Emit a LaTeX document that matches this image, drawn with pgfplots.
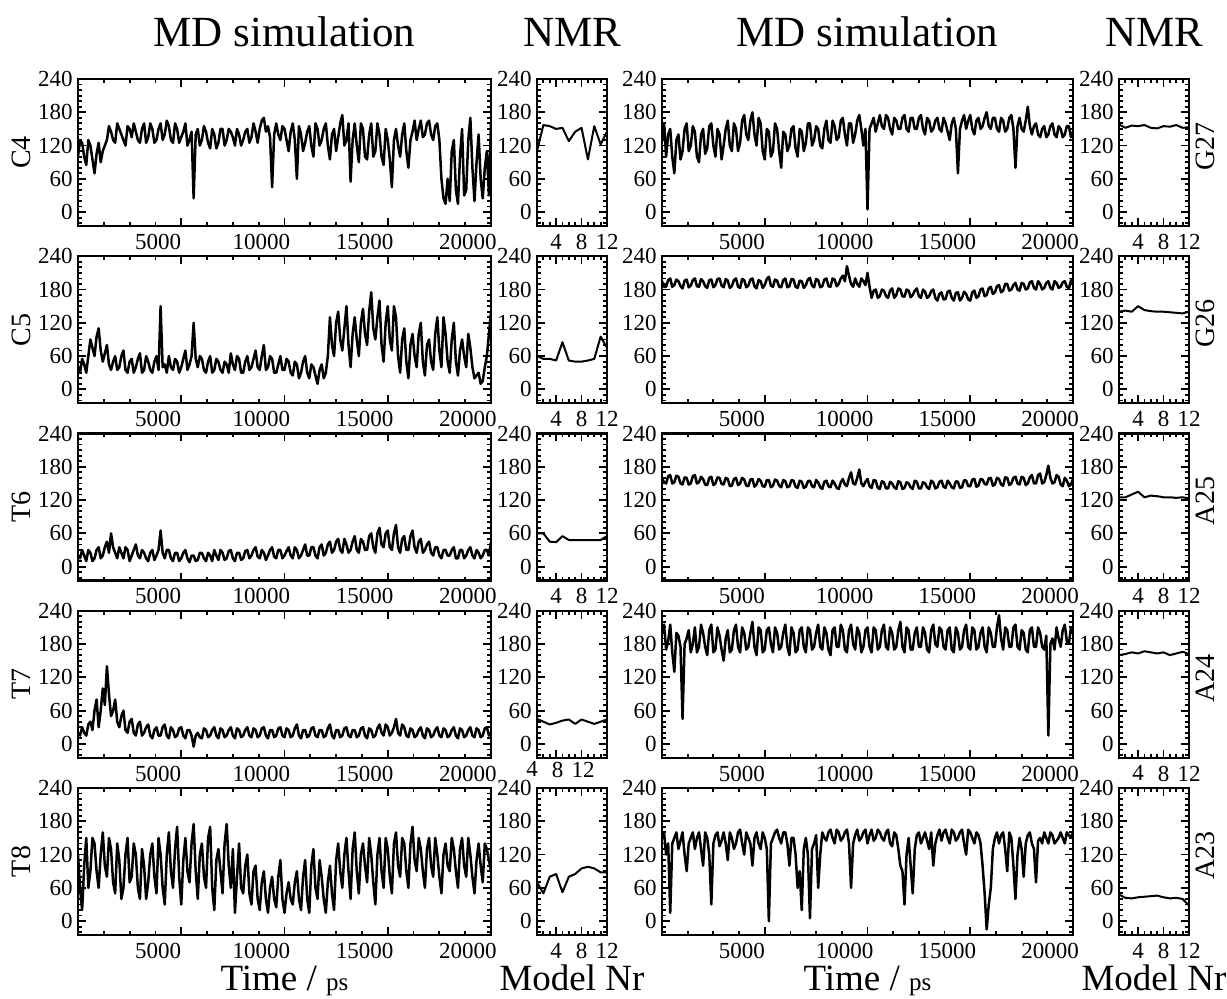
\documentclass[border=0pt]{standalone}
\usepackage{fontspec}
\setmainfont{Liberation Serif}
\usepackage{pgfplots}
\usepackage{pgfplotstable}
\pgfplotsset{compat=1.18}

\pgfplotstableread{
t C4 C5 T6 T7 T8 G27 G26 A25 A24 A23
0 100 40 20 20 120 130 195 160 200 150
100 130 30 15 15 60 160 185 152 215 160
200 125 55 30 30 20 100 185 150 170 120
300 100 45 20 20 100 140 197 163 185 140
400 85 30 10 15 150 150 200 165 215 15
500 130 60 30 35 60 100 185 150 165 140
600 120 90 25 40 90 70 188 152 130 150
700 95 75 10 25 150 130 198 164 200 160
800 70 60 15 60 140 140 195 162 195 130
900 105 95 30 80 90 95 186 150 175 145
1000 125 110 35 30 60 110 182 148 45 160
1100 90 70 15 60 120 150 196 161 180 120
1200 110 50 20 100 160 160 198 160 190 90
1300 120 65 35 70 100 110 184 148 205 140
1400 130 80 45 140 80 120 187 150 165 150
1500 155 45 25 90 150 155 197 163 180 160
1600 145 35 60 50 130 145 200 165 210 130
1700 130 50 35 60 70 100 186 150 165 150
1800 125 60 25 80 50 90 185 152 175 160
1900 160 35 15 40 140 140 199 162 215 130
2000 150 40 35 30 110 150 195 158 200 100
2100 140 60 25 50 40 105 186 148 175 160
2200 130 70 15 60 60 115 183 147 160 150
2300 120 35 35 25 120 155 197 160 205 120
2400 155 30 30 20 150 160 198 162 215 30
2500 150 50 10 40 70 120 184 147 165 140
2600 135 55 20 45 80 100 188 150 170 155
2700 160 30 30 20 140 150 199 161 210 160
2800 145 40 40 15 120 140 200 160 195 135
2900 130 55 20 35 60 95 187 149 170 145
3000 125 65 15 40 40 120 184 148 150 160
3100 150 30 30 15 130 150 199 160 190 140
3200 160 35 25 20 100 165 196 158 205 110
3300 125 60 15 30 40 120 183 145 165 160
3400 135 50 10 35 70 110 186 146 170 150
3500 160 35 25 15 120 160 197 158 205 130
3600 150 30 30 10 140 150 200 160 215 140
3700 125 50 12 25 80 110 185 147 175 160
3800 130 60 20 30 50 125 183 150 165 165
3900 150 35 30 15 150 165 199 160 210 140
4000 160 150 65 15 120 175 197 157 200 120
4100 130 40 25 30 60 140 184 146 170 160
4200 140 45 15 35 30 130 187 145 175 150
4300 165 30 30 15 120 165 198 157 200 140
4400 155 60 30 10 160 180 200 158 220 100
4500 130 40 15 30 90 140 186 144 175 150
4600 125 35 10 25 60 120 182 148 160 160
4700 160 55 25 12 130 170 197 158 210 140
4800 150 50 25 15 170 160 195 155 205 130
4900 125 30 10 28 80 110 183 145 165 160
5000 135 40 15 30 30 95 188 144 170 150
5100 145 55 25 15 110 150 199 156 205 130
5200 160 70 30 10 150 145 203 156 210 0
5300 120 35 15 25 90 100 187 143 180 140
5400 130 45 8 25 70 110 185 146 165 150
5500 145 60 20 15 140 160 198 157 210 160
5600 25 120 20 -5 175 150 196 155 200 165
5700 140 55 10 15 90 110 185 146 170 150
5800 150 40 12 20 40 80 184 143 175 140
5900 120 60 25 12 120 145 197 156 200 160
6000 130 55 25 10 140 140 200 154 215 160
6100 155 35 15 28 80 110 184 143 175 140
6200 145 30 10 25 60 120 186 145 160 100
6300 125 50 25 12 150 150 199 156 210 150
6400 115 60 20 15 170 155 198 155 200 150
6500 150 30 10 25 60 115 185 144 165 120
6600 140 35 30 30 20 100 183 142 170 60
6700 115 55 20 15 110 150 196 155 205 90
6800 125 50 12 10 130 145 195 153 210 20
6900 150 35 30 28 90 110 183 142 175 130
7000 150 30 25 25 50 125 188 144 165 150
7100 120 50 12 12 140 160 198 154 210 120
7200 130 45 15 15 175 160 201 155 205 5
7300 150 30 28 25 100 120 187 145 170 130
7400 145 65 30 30 60 130 184 143 175 140
7500 135 45 15 15 130 155 199 156 200 155
7600 120 35 10 10 15 150 197 152 215 60
7700 150 60 25 28 80 120 184 143 175 120
7800 140 55 25 25 140 115 186 140 170 160
7900 120 30 12 12 60 150 198 153 210 150
8000 130 30 15 15 50 165 200 155 200 145
8100 145 50 28 25 100 130 186 145 170 160
8200 150 60 30 30 120 125 185 143 160 165
8300 125 35 15 15 50 165 200 155 205 150
8400 135 40 20 12 30 155 198 150 210 140
8500 160 55 30 28 90 130 186 142 175 165
8600 145 70 35 25 100 135 190 140 175 160
8700 125 40 18 12 40 165 200 152 215 145
8800 150 35 15 15 20 170 205 158 205 150
8900 165 60 30 28 70 140 195 148 170 160
9000 170 80 25 30 90 120 222 145 165 165
9100 145 35 12 15 40 160 205 160 205 140
9200 155 40 20 10 15 160 190 170 215 60
9300 135 60 30 25 60 125 185 150 180 140
9400 45 55 35 25 80 140 200 148 170 155
9500 140 30 18 12 40 165 190 160 210 165
9600 160 30 15 15 25 175 185 175 200 145
9700 140 45 30 28 80 150 200 150 165 150
9800 130 60 30 30 110 120 195 145 175 160
9900 155 35 15 15 40 150 188 153 205 165
10000 150 35 20 12 15 5 210 158 210 140
10100 130 55 28 28 50 150 185 145 175 155
10200 110 50 35 25 70 160 165 142 165 165
10300 145 30 20 12 40 170 178 156 210 145
10400 160 25 15 15 30 145 180 155 205 150
10500 130 50 35 28 70 160 165 142 170 165
10600 60 45 30 35 90 175 168 140 175 160
10700 155 20 15 15 40 155 180 154 205 150
10800 140 30 20 10 20 150 178 152 215 145
10900 110 50 30 25 80 175 168 141 175 160
11000 125 60 40 25 110 170 165 141 170 165
11100 145 30 20 12 40 150 178 153 210 140
11200 155 20 20 15 15 140 182 150 200 135
11300 120 45 35 28 100 170 165 143 170 160
11400 100 40 35 30 130 165 170 140 175 155
11500 160 25 20 15 60 150 182 154 205 130
11600 150 10 15 12 40 150 180 152 220 100
11700 120 35 35 25 110 170 168 140 175 90
11800 130 45 40 25 80 175 167 142 165 30
11900 150 20 20 12 40 150 180 152 210 120
12000 160 30 25 15 15 145 178 150 205 150
12100 120 60 40 28 70 170 166 143 170 100
12200 95 130 45 35 100 170 170 140 170 50
12300 140 80 25 15 50 150 178 155 200 130
12400 150 60 30 10 20 150 182 153 210 155
12500 110 120 45 25 110 170 168 141 175 160
12600 135 140 50 25 140 175 165 141 175 140
12700 160 90 30 12 90 150 180 152 210 150
12800 175 70 25 15 60 140 176 150 200 160
12900 120 110 50 28 120 170 165 143 170 145
13000 130 150 40 30 150 165 168 140 165 130
13100 160 80 25 15 90 145 177 155 205 160
13200 55 40 30 12 40 150 180 152 215 100
13300 130 100 45 25 130 165 165 141 180 140
13400 160 130 55 25 160 170 160 143 175 155
13500 120 90 30 12 90 150 172 153 210 165
13600 90 60 25 15 50 145 175 155 205 145
13700 160 120 50 28 120 170 162 144 175 160
13800 150 145 45 30 140 160 163 142 170 165
13900 100 100 30 15 100 145 176 155 205 150
14000 95 80 30 10 70 130 178 150 210 140
14100 140 140 55 28 150 160 165 143 170 165
14200 160 175 60 25 120 170 160 141 165 160
14300 100 110 35 12 70 150 174 154 210 145
14400 110 90 25 15 30 70 175 153 200 150
14500 160 130 60 28 120 150 160 142 170 160
14600 140 160 70 35 150 165 165 143 175 165
14700 100 80 40 20 90 175 176 156 205 140
14800 85 50 35 15 60 150 172 155 215 120
14900 150 120 60 35 150 165 162 145 175 165
15000 130 150 65 30 130 175 160 145 170 160
15100 95 90 35 15 80 150 175 157 210 150
15200 45 70 30 20 50 140 178 158 205 140
15300 130 150 60 30 140 165 165 144 170 160
15400 150 130 75 45 160 170 168 146 175 155
15500 120 60 35 20 100 150 180 158 200 140
15600 100 30 25 15 80 155 182 157 210 100
15700 140 90 50 35 150 170 168 149 175 50
15800 160 110 55 30 140 180 170 148 165 -15
15900 110 50 30 15 90 155 182 159 210 30
16000 80 20 30 12 60 150 185 160 200 60
16100 130 80 55 28 140 170 172 146 175 130
16200 145 100 65 25 170 170 175 148 175 150
16300 165 60 35 12 110 150 186 160 210 160
16400 130 40 25 15 90 145 188 158 232 140
16500 150 100 45 25 150 170 175 148 190 155
16600 165 120 50 30 130 165 178 146 170 160
16700 135 50 25 15 90 145 190 161 210 130
16800 140 25 30 10 60 150 190 160 205 90
16900 160 80 40 28 130 170 178 147 175 160
17000 165 90 45 25 150 175 180 150 175 150
17100 140 50 25 12 100 150 188 160 210 100
17200 130 35 20 15 80 80 192 162 215 40
17300 155 100 35 25 150 155 180 150 175 120
17400 160 130 35 30 120 170 178 148 170 150
17500 130 70 20 15 80 150 192 162 205 130
17600 60 40 15 12 50 145 190 160 200 80
17700 25 130 30 28 120 165 180 147 170 140
17800 15 100 30 25 140 190 182 150 165 155
17900 60 50 20 12 100 155 193 161 205 160
18000 20 30 20 15 90 140 195 165 210 140
18100 110 90 30 25 150 155 183 150 175 130
18200 130 120 35 30 130 160 180 150 175 70
18300 40 50 15 15 90 140 195 165 210 145
18400 15 25 15 10 60 135 190 168 200 150
18500 100 70 30 28 130 150 180 150 175 140
18600 150 90 30 25 150 155 183 152 170 160
18700 30 60 15 12 100 135 192 165 195 150
18800 40 40 20 15 80 140 195 182 15 140
18900 130 100 30 25 150 155 183 160 180 160
19000 170 75 35 30 120 160 180 150 190 155
19100 80 40 20 15 80 140 195 152 170 140
19200 20 20 15 12 50 135 192 165 210 145
19300 90 25 30 28 110 155 183 162 190 150
19400 140 30 25 25 140 150 185 148 175 160
19500 60 10 15 12 100 135 193 145 205 150
19600 25 15 20 15 70 140 195 160 215 140
19700 80 40 30 28 140 155 185 155 185 160
19800 110 60 30 30 130 155 182 145 180 155
19900 30 100 20 15 110 135 196 148 210 150
20000 160 140 45 20 90 145 200 158 200 160
}\md

\pgfplotstableread{
m C4 C5 T6 T7 T8 G27 G26 A25 A24 A23
1 110 60 60 45 70 158 140 125 160 48
2 157 55 60 40 50 152 142 125 162 42
3 155 55 45 35 80 156 140 130 165 41
4 150 52 44 38 85 155 150 135 163 43
5 152 85 55 42 52 157 143 125 167 44
6 128 52 48 44 80 152 141 128 165 45
7 145 50 48 36 85 151 140 127 163 46
8 152 50 48 44 95 155 140 125 165 43
9 95 52 48 40 98 154 139 125 160 41
10 155 55 48 36 95 157 138 124 163 42
11 122 95 48 40 88 152 137 125 166 40
12 145 75 55 44 88 153 140 123 162 28
}\nmr

\pgfplotsset{
  panel/.style={
    scale only axis, anchor=south west, height=73.5pt,
    ymin=-25, ymax=240, ytick={0,60,...,240}, minor ytick={-20,-10,...,230},
    tick align=inside, major tick length=4pt, minor tick length=2pt,
    every tick/.style={black, line width=0.9pt},
    axis line style={line width=1.1pt},
    tick label style={font=\fontsize{11.5}{13}\selectfont},
    /pgf/number format/assume math mode=true,
    scaled x ticks=false, scaled y ticks=false,
    yticklabel style={xshift=0.8pt},
    xticklabel style={yshift=-0.5pt},
    ylabel style={font=\fontsize{14}{16}\selectfont},
  },
  md/.style={panel, width=206.5pt, xmin=0, xmax=20000,
    xtick={0,5000,10000,15000,20000}, xticklabels={,5000,10000,15000,20000},
    minor xtick={1250,2500,...,18750},
    xticklabel style={xshift=-11.5pt}, ylabel shift=-3pt},
  nmr/.style={panel, width=35pt, xmin=1, xmax=12, xtick={4,8,12}, minor xtick={1,...,12}},
  rlab/.style={ylabel style={at={(rel axis cs:1,0.5)}, anchor=north, xshift=3pt}},
  ser/.style={black, line width=1.25pt, no markers, line join=round},
  sern/.style={black, line width=1pt, no markers, line join=round},
}

\begin{document}
\begin{tikzpicture}
\useasboundingbox (0,0) rectangle (613.5pt,499pt);

% row 1
\begin{axis}[md, at={(39pt,386pt)}, ylabel={C4}]
\addplot[ser] table[x=t, y=C4] {\md};
\end{axis}
\begin{axis}[nmr, at={(268.5pt,386pt)}]
\addplot[sern] table[x=m, y=C4] {\nmr};
\end{axis}
\begin{axis}[md, width=205.5pt, at={(331pt,386pt)}]
\addplot[ser] table[x=t, y=G27] {\md};
\end{axis}
\begin{axis}[nmr, rlab, at={(559.5pt,386pt)}, ylabel={G27}]
\addplot[sern] table[x=m, y=G27] {\nmr};
\end{axis}

% row 2
\begin{axis}[md, at={(39pt,297.375pt)}, ylabel={C5}]
\addplot[ser] table[x=t, y=C5] {\md};
\end{axis}
\begin{axis}[nmr, at={(268.5pt,297.375pt)}]
\addplot[sern] table[x=m, y=C5] {\nmr};
\end{axis}
\begin{axis}[md, width=205.5pt, at={(331pt,297.375pt)}]
\addplot[ser] table[x=t, y=G26] {\md};
\end{axis}
\begin{axis}[nmr, rlab, at={(559.5pt,297.375pt)}, ylabel={G26}]
\addplot[sern] table[x=m, y=G26] {\nmr};
\end{axis}

% row 3
\begin{axis}[md, at={(39pt,208.75pt)}, ylabel={T6}]
\addplot[ser] table[x=t, y=T6] {\md};
\end{axis}
\begin{axis}[nmr, at={(268.5pt,208.75pt)}]
\addplot[sern] table[x=m, y=T6] {\nmr};
\end{axis}
\begin{axis}[md, width=205.5pt, at={(331pt,208.75pt)}]
\addplot[ser] table[x=t, y=A25] {\md};
\end{axis}
\begin{axis}[nmr, rlab, at={(559.5pt,208.75pt)}, ylabel={A25}]
\addplot[sern] table[x=m, y=A25] {\nmr};
\end{axis}

% row 4
\begin{axis}[md, at={(39pt,120.125pt)}, ylabel={T7}]
\addplot[ser] table[x=t, y=T7] {\md};
\end{axis}
\begin{axis}[nmr, at={(268.5pt,120.125pt)}, xticklabel style={xshift=-12pt, yshift=2pt}]
\addplot[sern] table[x=m, y=T7] {\nmr};
\end{axis}
\begin{axis}[md, width=205.5pt, at={(331pt,120.125pt)}]
\addplot[ser] table[x=t, y=A24] {\md};
\end{axis}
\begin{axis}[nmr, rlab, at={(559.5pt,120.125pt)}, ylabel={A24}]
\addplot[sern] table[x=m, y=A24] {\nmr};
\end{axis}

% row 5
\begin{axis}[md, at={(39pt,31.5pt)}, ylabel={T8}]
\addplot[ser] table[x=t, y=T8] {\md};
\end{axis}
\begin{axis}[nmr, at={(268.5pt,31.5pt)}]
\addplot[sern] table[x=m, y=T8] {\nmr};
\end{axis}
\begin{axis}[md, width=205.5pt, at={(331pt,31.5pt)}]
\addplot[ser] table[x=t, y=A23] {\md};
\end{axis}
\begin{axis}[nmr, rlab, at={(559.5pt,31.5pt)}, ylabel={A23}]
\addplot[sern] table[x=m, y=A23] {\nmr};
\end{axis}

% titles and axis titles
\node[anchor=base, font=\fontsize{21.5}{24}\selectfont] at (142.25pt,475.5pt) {MD simulation};
\node[anchor=base, font=\fontsize{21.5}{24}\selectfont] at (286pt,475.5pt) {NMR};
\node[anchor=base, font=\fontsize{21.5}{24}\selectfont] at (433.75pt,475.5pt) {MD simulation};
\node[anchor=base, font=\fontsize{21.5}{24}\selectfont] at (577pt,475.5pt) {NMR};
\node[anchor=base] at (142.25pt,4pt) {\fontsize{18.5}{20}\selectfont Time / {\fontsize{12.5}{14}\selectfont ps}};
\node[anchor=base, font=\fontsize{18.5}{20}\selectfont] at (286pt,4pt) {Model Nr};
\node[anchor=base] at (433.75pt,4pt) {\fontsize{18.5}{20}\selectfont Time / {\fontsize{12.5}{14}\selectfont ps}};
\node[anchor=base, font=\fontsize{18.5}{20}\selectfont] at (577pt,4pt) {Model Nr};
\end{tikzpicture}
\end{document}
